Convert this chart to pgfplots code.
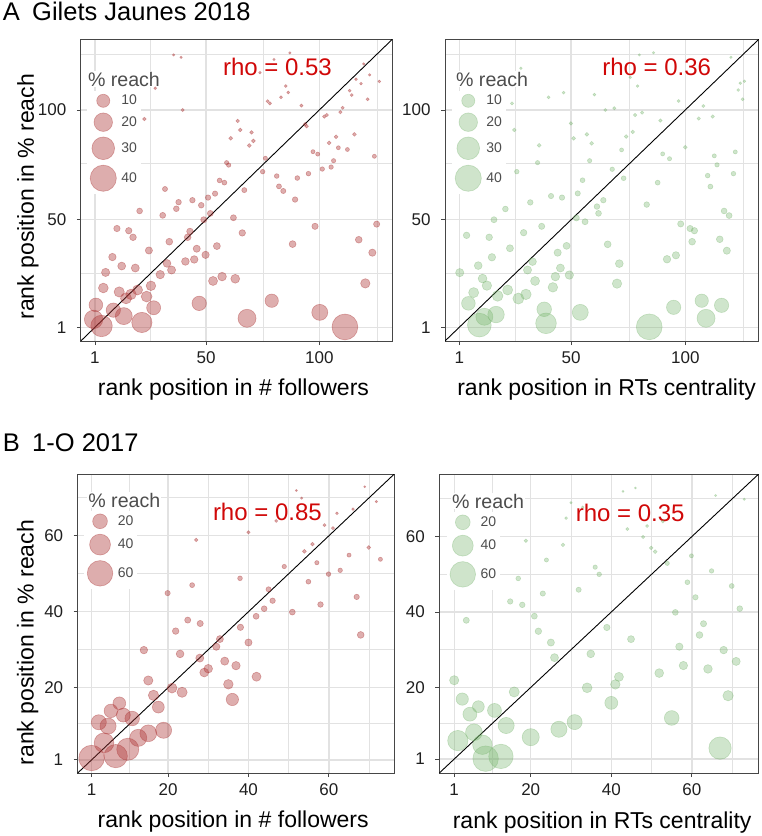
\documentclass[border=0pt]{standalone}
\usepackage{fontspec}
\setmainfont{Liberation Sans}
\usepackage{pgfplots}
\pgfplotsset{compat=1.18}
\usepackage{pgfplotstable}

\definecolor{ptred}{RGB}{172,52,52}
\definecolor{ptgreen}{RGB}{115,178,105}
\definecolor{rhored}{RGB}{208,8,8}
\definecolor{gridc}{RGB}{226,226,226}
\definecolor{framec}{RGB}{70,70,70}
\definecolor{legtext}{RGB}{77,77,77}
\newcommand{\fs}[1]{\fontsize{#1}{#1}\selectfont}

% ---------- Gilets Jaunes: rank in # followers vs rank in % reach ----------
\pgfplotstableread{
x y reach
35.7 125.1 0.34
39 124 0.34
87 126 0.34
80 123 0.34
73.8 117 0.4
27.6 109.9 0.46
39.7 100 0.6
22.8 95.9 0.7
119.6 121 0.34
122.2 116 0.4
126.5 113 0.46
116.2 114 0.46
118.4 112 0.46
113.4 108.8 0.5
114.3 106.8 0.55
121.3 104.9 0.55
85.2 110.9 0.5
86.3 108 0.5
83.1 105.8 0.55
77.2 104 0.6
78.2 103 0.6
92.1 102 0.6
110.3 101 0.6
109.3 99 0.65
103.3 97.7 0.7
102.2 97 0.7
93.7 93.5 0.75
94.4 92.6 0.75
64 95 0.75
65.1 90.9 0.8
70.1 89.8 0.8
70.9 85.9 0.9
69.1 83.8 0.9
60.9 87.1 0.9
107.4 87.8 0.85
115.5 88.9 0.85
104.3 85 0.9
108.4 82.8 0.95
112.4 82 0.95
97.2 81 1.0
99.3 79.9 1.0
124.3 78.9 1.0
106.3 76.9 1.1
76.2 78 1.05
59.1 76 1.1
60 74.9 1.15
101.3 73.1 1.2
105.2 74 1.2
75 71.9 1.25
81.2 69.9 1.3
95.2 71 1.3
90.3 69 1.35
56 67.9 1.4
58.1 66.9 1.45
82.2 65.2 1.5
31.9 64 1.55
66.9 63.5 1.55
84.1 63.1 1.6
89.3 59.2 1.8
54 61.9 1.7
50.9 60.1 1.75
44 58.9 1.8
37.9 58 1.85
36.9 55 1.95
47.9 56.6 1.9
20.7 54 2.0
30.9 52 2.1
51.9 52.9 2.05
62.1 50.9 2.15
49 50 2.2
10.7 46 2.4
15.9 45 2.45
17.8 42 2.6
98.1 47 2.35
125.3 48 2.3
66 44 2.5
42.9 44.7 2.5
41.9 42 2.65
33.8 40 2.75
88.2 38.9 2.8
117.4 40.9 2.7
54.8 38 2.9
45.9 36.8 3.0
24.8 36 3.05
49.8 34 3.2
44.8 31.9 3.4
40.9 31 3.5
32.8 30.1 3.6
34.8 27.1 3.9
29.8 25 4.2
123.4 35 3.1
8.7 33 3.3
12.8 28.9 3.7
18.8 28 3.8
5.7 26 4.0
57.1 24.1 4.4
53.1 22.1 4.8
62.9 23.1 4.6
120.3 21 5.2
25.7 19.9 5.4
4.7 18.9 5.6
19.8 18 5.9
11.7 17.1 6.2
16.9 16 6.5
14.7 14.2 7.2
23.8 15 6.9
26.9 9.9 11.5
1.4 11.2 11.0
9.1 8.8 12
13.7 6.1 17
47 11.9 12.2
79 13.1 10.5
100.2 7.8 15
68.1 5.1 19
21.7 3.2 24
111.3 1.15 39
0.4 4.6 20
3.9 1.6 27
}\dataAL

% ---------- Gilets Jaunes: rank in RTs centrality vs rank in % reach ----------
\pgfplotstableread{
x y reach
79.9 125.1 0.34
86.1 126.1 0.34
75.9 114.9 0.4
79.1 110.9 0.45
120 124 0.34
124.1 112.2 0.45
125.9 113.1 0.45
123.2 109.1 0.5
125.1 104.9 0.55
60.2 107 0.5
46.7 107.9 0.5
40.1 105.8 0.55
28 119 0.4
24.1 103 0.6
25.1 90.9 0.8
35.3 76 1.1
36 83.9 0.9
26.2 71.9 1.25
49.9 93.9 0.75
51.1 87.1 0.9
56.9 88.9 0.85
59 84.8 0.9
58.1 76.9 1.1
65 100 0.6
68.9 100.8 0.6
78 97.7 0.7
81.1 98.8 0.65
74.1 87.9 0.85
77 90 0.8
89.1 95.2 0.7
97.1 104.1 0.55
107.9 101.8 0.6
105.9 96.1 0.7
112 97 0.7
72.1 81.8 0.95
68 73 1.2
73 68.9 1.35
90.1 80 1.0
93.1 77.8 1.05
100 83 0.9
112.7 79.1 1.0
113.9 75 1.15
121.9 80.9 1.0
109.8 70.1 1.3
111 65.1 1.5
121.1 71 1.25
87.9 66.9 1.45
83.1 56.9 1.9
55 68 1.4
52.9 62 1.65
64.1 58.9 1.8
61.3 56 1.9
62 52.9 2.05
56.1 49.1 2.2
52.3 50.8 2.15
46 60.1 1.75
41.2 60.8 1.7
32.1 57.9 1.85
37.1 47 2.3
29.2 44.1 2.5
21.2 54.9 1.95
16.2 50 2.2
14.1 42 2.6
4.2 42.9 2.55
23.2 37 2.95
15.3 32.9 3.3
9.3 29.1 3.6
1.2 25.9 4.0
11.2 23.2 4.6
13.1 20 5.3
7.3 16.8 6.0
5 11.9 11
17.8 15.3 6.8
22.2 18 5.9
26.9 14.1 7.2
30.2 16 6.5
34.2 22.1 4.8
30.9 27.1 3.9
33.1 30.9 3.5
44.1 35 3.1
48 38.1 2.9
45.3 28 3.8
43.1 24.1 4.4
42 19.2 5.4
49.2 24.8 4.2
66 38.8 2.8
71.1 30 3.6
70.1 20.9 5.2
54 7.8 15
38.2 9.2 12.5
39 2.8 25
9.8 2 33
12 5.8 17
17.1 6.8 16
84.2 1.2 39
94.9 10.1 12
107.2 13.1 10.5
109.1 5.1 19
115.9 11 12
92 32 3.4
95.9 33.8 3.2
98 48.1 2.3
102.1 46 2.35
104 45 2.45
103 40 2.7
115.1 41.1 2.7
118.2 35.9 3.1
117 54 2.0
119.2 51.9 2.1
}\dataAR

% ---------- 1-O: rank in # followers vs rank in % reach ----------
\pgfplotstableread{
x y reach
68.9 72.9 0.37
51.9 71.9 0.4
53.2 69.9 0.5
71.8 69 0.55
66 67 0.65
62 65.9 0.7
46.9 63.9 0.85
58.9 62.8 0.9
61 62 0.95
40 60.9 1.0
27 58.9 1.15
55.9 57.8 1.25
53.9 55.9 1.45
65 54.9 1.55
69.9 56.9 1.35
72.8 53.8 1.6
57 52.9 1.7
48.9 51.9 1.8
59.9 49.9 2.0
62.8 50.9 1.9
54.9 47.9 2.2
37.9 48.8 2.1
26 47 2.3
19.9 44.9 2.6
45 45.9 2.5
46 42.9 2.8
66.9 43.9 2.7
57.9 41.9 2.9
43.9 40.8 3.1
50.9 39.9 3.2
41.9 38.8 3.3
24.9 37.8 3.5
28 36.9 3.6
21.9 34.9 4.0
38 35.9 3.8
32.9 32.8 4.6
67.9 33.9 4.3
32 30.8 5.0
40 31.9 4.8
14 29.9 5.3
23 28.9 5.6
27.9 27.8 6.0
34.1 27 6.2
36.9 25.8 6.6
30 25 6.9
29 24 7.2
42 22.9 7.6
15.1 21.9 8.0
21 19.9 9.0
23.5 18.8 9.6
35 20.9 8.5
16.4 18 10
36 16.9 14
17.6 14.9 13
7.9 15.9 15
5.8 13.9 17
8.9 12.8 18
11.1 11.9 19.5
2.8 10.9 21
5.1 9.9 24
18.9 8.8 24
15.1 8 26
12.6 6.8 27
10 3.8 45
7 2 50
4.1 5.5 36
1 1.5 60
}\dataBL

% ---------- 1-O: rank in RTs centrality vs rank in % reach ----------
\pgfplotstableread{
x y reach
42.9 72 0.4
46 72.9 0.37
65.9 70.9 0.45
73 69.9 0.5
30 69 0.55
32.9 67.8 0.6
28.8 64.9 0.75
44 62 0.95
48.9 62.8 0.9
52.8 64 0.8
47.9 59.9 1.05
18.8 58.9 1.15
28 57.8 1.25
49.9 57 1.3
50.9 56 1.4
59.9 54.9 1.55
23.9 53.8 1.6
53.9 52.9 1.7
36 51.9 1.8
37 50 2.0
64.9 50.9 1.9
16.9 48.9 2.1
58.9 47.9 2.2
69.9 46.9 2.3
31.9 45.9 2.5
23 44.9 2.6
14.9 42.8 2.8
17.9 41.9 2.9
60.9 43.9 2.7
55.9 39.9 3.2
71.9 40.9 3.1
20.9 38.9 3.3
4 37.8 3.5
38.9 35.9 3.8
21.9 34.9 4.0
62.9 36.9 3.6
61.9 33.9 4.3
44.9 32.8 4.6
25 31.9 4.8
56.9 30.8 5.0
67.9 29.9 5.3
34.9 28.9 5.6
25.9 27.9 6.0
71 26.9 6.2
57.9 25.8 6.6
64 24.9 6.9
51.9 23.8 7.2
41.9 22.8 7.6
1 21.9 8.0
41 20.8 8.5
34 19.9 9.0
15.9 18.8 9.6
69 17.8 10
3 16.9 14
40 15.9 15.5
7 14.9 13
11 13.9 18
4.9 12.9 18
13.9 9.9 24
55 11.9 20
30.9 10.8 21
27 8.9 24
5.9 8.1 26
20 6.8 27
1.9 5.9 38
8 4.8 35
67 3.9 46
12.6 1.7 55
8.8 1.1 60
}\dataBR

\pgfplotsset{
  rankaxis/.style={
    scale only axis,
    axis line style={framec, line width=1pt},
    tick pos=left, tick align=outside,
    major tick length=4pt, minor tick length=0pt,
    every tick/.style={framec, line width=0.9pt},
    grid=both,
    major grid style={gridc, line width=1.4pt},
    minor grid style={gridc, line width=1.0pt},
    tick label style={font=\fs{17}, text=black!88},
    xticklabel style={yshift=-3pt},
    yticklabel style={xshift=-7pt},
    /pgf/number format/assume math mode=true,
    clip=true,
    legend cell align=left,
  },
  rankA/.style={rankaxis,
    xmin=-5.25, xmax=132.25, ymin=-5.25, ymax=132.25,
    xtick={1,50,100}, ytick={1,50,100},
    minor xtick={25.5,75.5,125.5}, minor ytick={25.5,75.5,125.5},
    height=301.8pt,
  },
  rankB/.style={rankaxis,
    xtick={1,20,40,60}, ytick={1,20,40,60},
    minor xtick={10.5,30,50,70}, minor ytick={10.5,30,50,70},
    height=299pt,
  },
  bub/.style 2 args={scatter, only marks, mark=*, forget plot,
    scatter/use mapped color={draw=#1, fill=#1},
    mark options={draw opacity=#2, fill opacity=#2, line width=0.6pt},
  },
  legA/.style={legend style={draw=none, fill=white, inner sep=3pt,
      font=\fs{14}, text=legtext, row sep=5.5pt, column sep=4pt,
      nodes={inner sep=1pt}}},
}

\begin{document}
\begin{tikzpicture}
\path[use as bounding box] (0pt,0pt) rectangle (762pt,-836pt);

% panel titles
\node[anchor=base west, inner sep=0pt, font=\fs{25.5}] at (2.7pt,-20.7pt) {A};
\node[anchor=base west, inner sep=0pt, font=\fs{25.5}] at (32pt,-20.7pt) {Gilets Jaunes 2018};
\node[anchor=base west, inner sep=0pt, font=\fs{25.5}] at (2.7pt,-451.7pt) {B};
\node[anchor=base west, inner sep=0pt, font=\fs{25.5}] at (32pt,-451.7pt) {1-O 2017};

% ===== A left =====
\begin{axis}[rankA, at={(80.8pt,-341pt)}, anchor=south west, width=311.6pt,
  xlabel={rank position in \# followers}, ylabel={rank position in \% reach},
  xlabel style={font=\fs{23}, at={(axis description cs:0.49,-0.179)}, anchor=base},
  ylabel style={font=\fs{23}, at={(axis description cs:-0.1508,0.478)}, anchor=base},
  legA, legend style={at={(axis cs:-1.2,107.3)}, anchor=north west, xshift=-3pt, yshift=3pt}]
\addplot[bub={ptred}{0.4},
  visualization depends on={2.07*sqrt(\thisrow{reach}) \as \msz},
  scatter/@pre marker code/.append style={/tikz/mark size=\msz}]
  table[x=x, y=y] {\dataAL};
\addplot[black, line width=0.9pt, forget plot] coordinates {(-10,-10) (140,140)};
\addlegendimage{only marks, mark=*, mark size=6.55pt, mark options={draw=ptred, fill=ptred, draw opacity=0.4, fill opacity=0.4, line width=0.6pt}}
\addlegendentry{10}
\addlegendimage{only marks, mark=*, mark size=9.26pt, mark options={draw=ptred, fill=ptred, draw opacity=0.4, fill opacity=0.4, line width=0.6pt}}
\addlegendentry{20}
\addlegendimage{only marks, mark=*, mark size=11.34pt, mark options={draw=ptred, fill=ptred, draw opacity=0.4, fill opacity=0.4, line width=0.6pt}}
\addlegendentry{30}
\addlegendimage{only marks, mark=*, mark size=13.09pt, mark options={draw=ptred, fill=ptred, draw opacity=0.4, fill opacity=0.4, line width=0.6pt}}
\addlegendentry{40}
\node[anchor=west, inner sep=1pt, fill=white, font=\fs{19.6}, text=legtext] at (axis cs:-2.6,114.1) {\% reach};
\node[font=\fs{24}, text=rhored] at (axis cs:81.5,119.7) {rho = 0.53};
\end{axis}

% ===== A right =====
\begin{axis}[rankA, at={(445pt,-341pt)}, anchor=south west, width=313.9pt,
  xlabel={rank position in RTs centrality},
  xlabel style={font=\fs{23}, at={(axis description cs:0.515,-0.179)}, anchor=base},
  legA, legend style={at={(axis cs:-0.88,107.3)}, anchor=north west, xshift=-3pt, yshift=3pt}]
\addplot[bub={ptgreen}{0.34},
  visualization depends on={2.07*sqrt(\thisrow{reach}) \as \msz},
  scatter/@pre marker code/.append style={/tikz/mark size=\msz}]
  table[x=x, y=y] {\dataAR};
\addplot[black, line width=0.9pt, forget plot] coordinates {(-10,-10) (140,140)};
\addlegendimage{only marks, mark=*, mark size=6.55pt, mark options={draw=ptgreen, fill=ptgreen, draw opacity=0.34, fill opacity=0.34, line width=0.6pt}}
\addlegendentry{10}
\addlegendimage{only marks, mark=*, mark size=9.26pt, mark options={draw=ptgreen, fill=ptgreen, draw opacity=0.34, fill opacity=0.34, line width=0.6pt}}
\addlegendentry{20}
\addlegendimage{only marks, mark=*, mark size=11.34pt, mark options={draw=ptgreen, fill=ptgreen, draw opacity=0.34, fill opacity=0.34, line width=0.6pt}}
\addlegendentry{30}
\addlegendimage{only marks, mark=*, mark size=13.09pt, mark options={draw=ptgreen, fill=ptgreen, draw opacity=0.34, fill opacity=0.34, line width=0.6pt}}
\addlegendentry{40}
\node[anchor=west, inner sep=1pt, fill=white, font=\fs{19.6}, text=legtext] at (axis cs:-0.9,114.1) {\% reach};
\node[font=\fs{24}, text=rhored] at (axis cs:87.5,119.7) {rho = 0.36};
\end{axis}

% ===== B left =====
\begin{axis}[rankB, at={(77.7pt,-773pt)}, anchor=south west, width=316.6pt,
  xmin=-2.45, xmax=76.25, ymin=-2.45, ymax=76.25,
  xlabel={rank position in \# followers}, ylabel={rank position in \% reach},
  xlabel style={font=\fs{23}, at={(axis description cs:0.491,-0.183)}, anchor=base},
  ylabel style={font=\fs{23}, at={(axis description cs:-0.1396,0.436)}, anchor=base},
  legA, legend style={at={(axis cs:-0.12,65.8)}, anchor=north west, xshift=-3pt, yshift=3pt}]
\addplot[bub={ptred}{0.4},
  visualization depends on={1.65*sqrt(\thisrow{reach}) \as \msz},
  scatter/@pre marker code/.append style={/tikz/mark size=\msz}]
  table[x=x, y=y] {\dataBL};
\addplot[black, line width=0.9pt, forget plot] coordinates {(-10,-10) (90,90)};
\addlegendimage{only marks, mark=*, mark size=7.38pt, mark options={draw=ptred, fill=ptred, draw opacity=0.4, fill opacity=0.4, line width=0.6pt}}
\addlegendentry{20}
\addlegendimage{only marks, mark=*, mark size=10.44pt, mark options={draw=ptred, fill=ptred, draw opacity=0.4, fill opacity=0.4, line width=0.6pt}}
\addlegendentry{40}
\addlegendimage{only marks, mark=*, mark size=12.78pt, mark options={draw=ptred, fill=ptred, draw opacity=0.4, fill opacity=0.4, line width=0.6pt}}
\addlegendentry{60}
\node[anchor=west, inner sep=1pt, fill=white, font=\fs{19.6}, text=legtext] at (axis cs:-0.09,69.4) {\% reach};
\node[font=\fs{24}, text=rhored] at (axis cs:44.7,66.3) {rho = 0.85};
\end{axis}

% ===== B right =====
\begin{axis}[rankB, at={(439.3pt,-773pt)}, anchor=south west, width=319.4pt,
  xmin=-2.7, xmax=76.6, ymin=-2.7, ymax=76.6,
  xlabel={rank position in RTs centrality},
  xlabel style={font=\fs{23}, at={(axis description cs:0.51,-0.184)}, anchor=base},
  legA, legend style={at={(axis cs:-0.09,65.8)}, anchor=north west, xshift=-3pt, yshift=3pt}]
\addplot[bub={ptgreen}{0.34},
  visualization depends on={1.65*sqrt(\thisrow{reach}) \as \msz},
  scatter/@pre marker code/.append style={/tikz/mark size=\msz}]
  table[x=x, y=y] {\dataBR};
\addplot[black, line width=0.9pt, forget plot] coordinates {(-10,-10) (90,90)};
\addlegendimage{only marks, mark=*, mark size=7.38pt, mark options={draw=ptgreen, fill=ptgreen, draw opacity=0.34, fill opacity=0.34, line width=0.6pt}}
\addlegendentry{20}
\addlegendimage{only marks, mark=*, mark size=10.44pt, mark options={draw=ptgreen, fill=ptgreen, draw opacity=0.34, fill opacity=0.34, line width=0.6pt}}
\addlegendentry{40}
\addlegendimage{only marks, mark=*, mark size=12.78pt, mark options={draw=ptgreen, fill=ptgreen, draw opacity=0.34, fill opacity=0.34, line width=0.6pt}}
\addlegendentry{60}
\node[anchor=west, inner sep=1pt, fill=white, font=\fs{19.6}, text=legtext] at (axis cs:0.18,69.4) {\% reach};
\node[font=\fs{24}, text=rhored] at (axis cs:44.7,66.3) {rho = 0.35};
\end{axis}
\end{tikzpicture}
\end{document}
